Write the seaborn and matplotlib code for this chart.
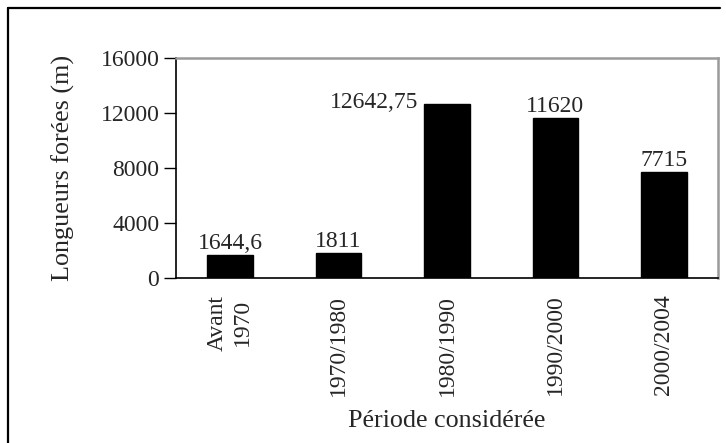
import matplotlib
matplotlib.use("Agg")
import matplotlib.pyplot as plt
from matplotlib.lines import Line2D
import seaborn as sns
import pandas as pd
import numpy as np

categories = ["Avant\n1970", "1970/1980", "1980/1990", "1990/2000", "2000/2004"]
values = [1644.6, 1811, 12642.75, 11620, 7715]
value_labels = ["1644,6", "1811", "12642,75", "11620", "7715"]
yticks = [0, 4000, 8000, 12000, 16000]

sns.set_style("white")
plt.rcParams['font.family'] = ['Liberation Serif', 'DejaVu Serif']

df = pd.DataFrame({"periode": categories, "longueur": values})

fig = plt.figure(figsize=(7.26, 4.43), dpi=100)
ax = fig.add_axes([176/726, 1-278/443, (718-176)/726, (278-58)/443])

sns.barplot(data=df, x="periode", y="longueur", color="black", width=0.42,
            saturation=1, ax=ax, edgecolor="black")

fs = 17
ax.set_ylim(0, 16000)
ax.set_xlim(-0.5, len(categories) - 0.5)
ax.set_yticks(yticks)
ax.set_yticklabels([str(v) for v in yticks], fontsize=fs)
ax.set_xticks(range(len(categories)))
ax.set_xticklabels(categories, rotation=90, fontsize=fs, va="top", ha="center", linespacing=1.25)
ax.set_xticks(np.arange(-0.5, len(categories), 1), minor=True)
ax.tick_params(axis="x", which="major", length=0, pad=12)
ax.tick_params(axis="x", which="minor", length=8, width=1, color="black", direction="out")
ax.tick_params(axis="y", length=9, width=1, color="black", direction="out", pad=3, left=True)

ax.set_xlabel("Période considérée", fontsize=18.8)
ax.set_ylabel("Longueurs forées (m)", fontsize=18.8)
ax.xaxis.set_label_coords(0.5, (278-421)/220)
ax.yaxis.set_label_coords((63-176)/542, 0.5)
ax.xaxis.label.set_va("center")
ax.yaxis.label.set_va("center")

for name in ["left", "bottom"]:
    ax.spines[name].set_color("black")
    ax.spines[name].set_linewidth(1.2)
for name in ["top", "right"]:
    ax.spines[name].set_color("#9a9a9a")
    ax.spines[name].set_linewidth(1.8)

for i, (v, lab) in enumerate(zip(values, value_labels)):
    if i == 2:
        ax.text(i - 0.265, v + 100, lab, ha="right", va="center", fontsize=fs)
    else:
        ax.text(i, v + 100, lab, ha="center", va="bottom", fontsize=fs)

# outer frame lines (left and top)
fig.add_artist(Line2D([8/726, 8/726], [0, 1-8/443], transform=fig.transFigure, color="black", lw=1.6))
fig.add_artist(Line2D([8/726, 720/726], [1-8/443, 1-8/443], transform=fig.transFigure, color="black", lw=1.6))

fig.savefig("out.png", dpi=100)
